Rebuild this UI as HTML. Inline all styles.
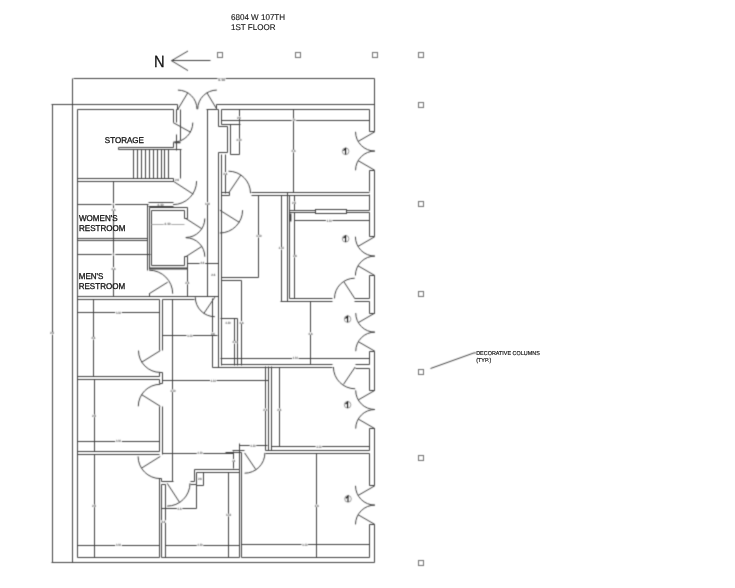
<!DOCTYPE html>
<html><head><meta charset="utf-8"><style>
html,body{margin:0;padding:0;background:#fff;}
svg{display:block;filter:grayscale(1);}
text{font-family:"Liberation Sans",sans-serif;fill:#111;stroke:#111;stroke-width:0.3px;text-rendering:geometricPrecision;}
.tx{opacity:0.99;}
.dt{fill:#444;stroke:#777;stroke-width:0.15px;}
</style></head><body>
<svg width="735" height="588" viewBox="0 0 735 588">
<defs><filter id="bl" color-interpolation-filters="sRGB" filterUnits="userSpaceOnUse" x="0" y="0" width="735" height="588"><feConvolveMatrix order="3" kernelMatrix="1 4 1 4 16 4 1 4 1" divisor="36" edgeMode="duplicate" preserveAlpha="false"/></filter></defs>
<g filter="url(#bl)">
<rect width="735" height="588" fill="#fff"/>
<g fill="none" stroke="#404040" stroke-width="1.0">
<path d="M72.5,78.5 V562.5"/>
<path d="M73.5,78.5 H374.5 V131.5"/>
<path d="M51.5,104.5 H177.5 V109.5"/>
<path d="M216.5,109.5 V104.5 H374.5"/>
<path d="M52.5,104.5 V562.5"/>
<path d="M51.5,562.5 H374.5 V524.5"/>
<path d="M374.5,170.5 V236.5"/>
<path d="M374.5,275.5 V313.5"/>
<path d="M374.5,351.5 V390.5"/>
<path d="M374.5,428.5 V485.5"/>
<path d="M369.5,109.5 V131.5"/>
<path d="M369.5,170.5 V191.5"/>
<path d="M369.5,194.5 V210.5"/>
<path d="M369.5,212.5 V236.5"/>
<path d="M369.5,275.5 V298.5"/>
<path d="M369.5,301.5 V313.5"/>
<path d="M369.5,351.5 V364.5"/>
<path d="M369.5,368.5 V390.5"/>
<path d="M369.5,428.5 V450.5"/>
<path d="M369.5,453.5 V485.5"/>
<path d="M369.5,524.5 V557.5"/>
<path d="M369.5,131.5 H374.5"/>
<path d="M369.5,170.5 H374.5"/>
<path d="M369.5,236.5 H374.5"/>
<path d="M369.5,275.5 H374.5"/>
<path d="M369.5,313.5 H374.5"/>
<path d="M369.5,351.5 H374.5"/>
<path d="M369.5,390.5 H374.5"/>
<path d="M369.5,428.5 H374.5"/>
<path d="M369.5,485.5 H374.5"/>
<path d="M369.5,524.5 H374.5"/>
<path d="M355.55,131.80 A19.25,19.25 0 0 0 374.80,151.05"/>
<path d="M374.8,131.8 L358.13,141.43"/>
<path d="M374.80,151.05 A19.25,19.25 0 0 0 355.55,170.30"/>
<path d="M374.8,170.3 L358.13,160.68"/>
<path d="M355.40,236.70 A19.400000000000006,19.400000000000006 0 0 0 374.80,256.10"/>
<path d="M374.8,236.7 L358.0,246.4"/>
<path d="M374.80,256.10 A19.400000000000006,19.400000000000006 0 0 0 355.40,275.50"/>
<path d="M374.8,275.5 L358.0,265.8"/>
<path d="M355.75,313.10 A19.049999999999983,19.049999999999983 0 0 0 374.80,332.15"/>
<path d="M374.8,313.1 L358.3,322.62"/>
<path d="M374.80,332.15 A19.049999999999983,19.049999999999983 0 0 0 355.75,351.20"/>
<path d="M374.8,351.2 L358.3,341.68"/>
<path d="M355.70,390.40 A19.100000000000023,19.100000000000023 0 0 0 374.80,409.50"/>
<path d="M374.8,390.4 L358.26,399.95"/>
<path d="M374.80,409.50 A19.100000000000023,19.100000000000023 0 0 0 355.70,428.60"/>
<path d="M374.8,428.6 L358.26,419.05"/>
<path d="M355.50,485.80 A19.299999999999983,19.299999999999983 0 0 0 374.80,505.10"/>
<path d="M374.8,485.8 L358.09,495.45"/>
<path d="M374.80,505.10 A19.299999999999983,19.299999999999983 0 0 0 355.50,524.40"/>
<path d="M374.8,524.4 L358.09,514.75"/>
<path d="M177.90,90.10 A19.1,19.1 0 0 1 197.00,109.20"/>
<path d="M177.9,109.2 L187.74,92.83"/>
<path d="M216.80,90.10 A19.1,19.1 0 0 0 197.70,109.20"/>
<path d="M216.8,109.2 L206.96,92.83"/>
<path d="M77.5,109.5 V557.5"/>
<path d="M77.5,109.5 H173.5 V122.5"/>
<path d="M176.5,109.5 V122.5"/>
<path d="M176.5,109.5 H178.5"/>
<path d="M180.5,109.5 V140.5"/>
<path d="M192.80,122.60 A19.6,19.6 0 0 1 173.20,142.20"/>
<path d="M173.2,122.6 L190.34,132.1"/>
<path d="M174.5,142.5 H180.5" stroke-width="1.6"/>
<path d="M173.5,142.5 V147.5 H118.5 V149.5 H181.5"/>
<path d="M176.5,134.5 V150.5"/>
<path d="M133.5,149.5 V178.5"/>
<path d="M137.5,149.5 V178.5"/>
<path d="M141.5,149.5 V178.5"/>
<path d="M145.5,149.5 V178.5"/>
<path d="M149.5,149.5 V178.5"/>
<path d="M153.5,149.5 V178.5"/>
<path d="M157.5,149.5 V178.5"/>
<path d="M161.5,149.5 V178.5"/>
<path d="M164.5,149.5 V178.5"/>
<path d="M168.5,149.5 V178.5"/>
<path d="M180.5,149.5 V178.5"/>
<path d="M77.5,178.5 H173.5 V181.5 H77.5"/>
<path d="M196.60,181.10 A23.5,23.5 0 0 1 173.10,204.60"/>
<path d="M173.1,181.1 L193.23,194.17"/>
<path d="M77.5,204.5 H148.5"/>
<path d="M113.5,181.5 V296.5"/>
<path d="M148.5,202.5 H173.5 M148.5,206.5 H173.5"/>
<path d="M77.5,238.5 H147.5 M77.5,240.5 H147.5"/>
<path d="M147.5,204.5 V270.5"/>
<path d="M149.5,269.5 V207.5 H187.5 V218.5 H184.5 V210.5 H151.5 V265.5 H184.5 V256.5 H187.5 V296.5"/>
<path d="M151.5,224.5 H184.5" stroke="#aaa"/>
<path d="M149.5,268.5 H187.5" stroke-width="1.8"/>
<path d="M204.80,218.50 A19,19 0 0 1 185.80,237.50"/>
<path d="M185.8,218.5 L201.79,228.76"/>
<path d="M185.80,237.70 A19,19 0 0 1 204.80,256.70"/>
<path d="M185.8,256.7 L201.79,246.44"/>
<path d="M77.5,254.5 H150.5"/>
<path d="M149.20,270.20 A23.5,23.5 0 0 1 172.70,293.70"/>
<path d="M149.2,293.7 L167.71,282.18"/>
<path d="M149.5,293.5 V296.5"/>
<path d="M77.5,296.5 H218.5"/>
<path d="M77.5,299.5 H159.5 M162.5,299.5 H194.5"/>
<path d="M187.5,263.5 H218.5"/>
<path d="M159.5,299.5 V350.5 M162.5,299.5 V350.5"/>
<path d="M93.5,299.5 V376.5"/>
<path d="M77.5,312.5 H159.5"/>
<path d="M138.50,350.60 A21.8,21.8 0 0 0 160.30,372.40"/>
<path d="M160.3,350.6 L141.81,362.15"/>
<path d="M159.5,376.5 V372.5 H162.5 V383.5 H159.5 V379.5"/>
<path d="M77.5,376.5 H159.5 M77.5,379.5 H159.5"/>
<path d="M138.30,406.30 A22,22 0 0 1 160.30,384.30"/>
<path d="M160.3,406.3 L141.64,394.64"/>
<path d="M94.5,379.5 V451.5"/>
<path d="M77.5,441.5 H159.5"/>
<path d="M159.5,406.5 V451.5 M162.5,406.5 V454.5"/>
<path d="M77.5,451.5 H159.5 M77.5,454.5 H159.5"/>
<path d="M138.10,456.40 A22.2,22.2 0 0 0 160.30,478.60"/>
<path d="M160.3,456.4 L141.47,468.16"/>
<path d="M159.5,478.5 V557.5 M159.5,478.5 H161.5 V481.5 H173.5"/>
<path d="M94.5,454.5 V557.5"/>
<path d="M77.5,545.5 H159.5"/>
<path d="M77.5,557.5 H159.5"/>
<path d="M207.5,109.5 V296.5"/>
<path d="M206.5,109.5 H216.5"/>
<path d="M216.5,109.5 H218.5 V126.5 H227.5 V152.5 H218.5 V367.5"/>
<path d="M221.5,109.5 V124.5 H240.5 M230.5,124.5 V154.5 H239.5"/>
<path d="M221.5,154.5 V365.5"/>
<path d="M221.5,192.5 H229.5 V195.5 H221.5"/>
<path d="M225.5,154.5 V193.5"/>
<path d="M239.5,109.5 V154.5"/>
<path d="M221.5,109.5 H369.5"/>
<path d="M221.5,120.5 H369.5" stroke-width="1.2"/>
<path d="M293.5,109.5 V192.5"/>
<path d="M228.50,171.20 A22,22 0 0 1 250.50,193.20"/>
<path d="M228.5,193.2 L240.8,174.96"/>
<path d="M251.5,192.5 H369.5 M251.5,195.5 H369.5"/>
<path d="M242.60,210.20 A22.8,22.8 0 0 1 219.80,233.00"/>
<path d="M219.8,210.2 L239.14,222.28"/>
<path d="M258.5,195.5 V277.5 H221.5 M221.5,280.5 H241.5 V365.5"/>
<path d="M281.5,195.5 V301.5"/>
<path d="M287.5,192.5 V301.5 M289.5,195.5 V298.5"/>
<path d="M294.5,195.5 V210.5"/>
<path d="M289.5,210.5 H369.5 M289.5,212.5 H369.5"/>
<rect x="315.5" y="209.5" width="31" height="4" fill="#fff"/>
<path d="M294.5,212.5 V298.5"/>
<path d="M294.5,220.5 H369.5"/>
<path d="M290.5,213.5 V221.5" stroke-width="1.8"/>
<path d="M289.5,298.5 H332.5 M280.5,301.5 H332.5"/>
<path d="M354.5,298.5 H369.5 M354.5,301.5 H369.5"/>
<path d="M334.50,298.40 A20.2,20.2 0 0 1 354.70,278.20"/>
<path d="M354.7,298.4 L343.81,281.63"/>
<path d="M310.5,301.5 V364.5"/>
<path d="M220.5,358.5 H369.5"/>
<path d="M221.5,364.5 H332.5 M221.5,367.5 H332.5"/>
<path d="M355.5,364.5 H369.5 M355.5,368.5 H369.5"/>
<path d="M333.40,367.00 A21.8,21.8 0 0 0 355.20,388.80"/>
<path d="M355.2,367 L343.46,384.41"/>
<path d="M172.5,299.5 V481.5"/>
<path d="M195.30,297.20 A19.5,19.5 0 0 0 214.80,316.70"/>
<path d="M214.8,297.2 L203.9,313.37"/>
<path d="M212.5,298.5 V367.5 H265.5"/>
<path d="M220.5,318.5 H237.5 M234.5,318.5 V365.5 M237.5,318.5 V365.5"/>
<path d="M162.5,335.5 H217.5"/>
<path d="M265.5,366.5 V450.5 M268.5,366.5 V450.5 M271.5,366.5 V450.5"/>
<path d="M279.5,367.5 V446.5"/>
<path d="M162.5,380.5 H268.5"/>
<path d="M271.5,446.5 H369.5 M265.5,450.5 H369.5 M265.5,453.5 H369.5"/>
<path d="M162.5,453.5 H233.5"/>
<path d="M233.5,451.5 V468.5"/>
<path d="M239.5,443.5 V469.5"/>
<path d="M239.5,445.5 H267.5"/>
<path d="M232.5,450.5 H244.5 M225.5,452.5 H241.5"/>
<path d="M194.5,469.5 H239.5 M196.5,472.5 H239.5"/>
<path d="M190.5,481.5 H194.5 V469.5 M190.5,484.5 H196.5 V472.5"/>
<path d="M190.00,483.30 A22.8,22.8 0 0 1 167.20,506.10"/>
<path d="M167.2,483.3 L179.62,502.42"/>
<path d="M161.5,508.5 H196.5 V484.5"/>
<path d="M203.5,472.5 V485.5 H196.5"/>
<path d="M228.5,472.5 V557.5"/>
<path d="M239.5,469.5 V557.5"/>
<path d="M161.5,484.5 V557.5 M165.5,484.5 V557.5 M161.5,484.5 H165.5"/>
<path d="M165.5,545.5 H239.5"/>
<path d="M161.5,557.5 H239.5"/>
<path d="M264.90,452.90 A20.3,20.3 0 0 1 244.60,473.20"/>
<path d="M244.6,452.9 L255.95,469.73"/>
<path d="M241.5,452.5 V557.5"/>
<path d="M316.5,453.5 V557.5"/>
<path d="M241.5,544.5 H369.5"/>
<path d="M241.5,557.5 H369.5"/>
<path d="M171.5,60.5 H210.5"/>
<path d="M188,51 L171.5,60.7 L188,70.6"/>
<rect x="217.5" y="52.5" width="5" height="5" stroke="#707070" stroke-width="1"/>
<rect x="295.5" y="52.5" width="5" height="5" stroke="#707070" stroke-width="1"/>
<rect x="372.5" y="52.5" width="5" height="5" stroke="#707070" stroke-width="1"/>
<rect x="418.5" y="52.5" width="5" height="5" stroke="#707070" stroke-width="1"/>
<rect x="418.5" y="102.5" width="5" height="5" stroke="#707070" stroke-width="1"/>
<rect x="418.5" y="201.5" width="5" height="5" stroke="#707070" stroke-width="1"/>
<rect x="418.5" y="291.5" width="5" height="5" stroke="#707070" stroke-width="1"/>
<rect x="418.5" y="369.5" width="5" height="5" stroke="#707070" stroke-width="1"/>
<rect x="418.5" y="455.5" width="5" height="5" stroke="#707070" stroke-width="1"/>
<rect x="418.5" y="560.5" width="5" height="5" stroke="#707070" stroke-width="1"/>
<path d="M430.5,368.5 L474,352.9 H476"/>
<circle cx="345.6" cy="151.3" r="3.3" stroke="#888" stroke-width="0.85"/><path d="M343.40000000000003,150.70000000000002 L345.6,148.5 V154.4" stroke="#111" stroke-width="1.1"/><circle cx="345.6" cy="238.8" r="3.3" stroke="#888" stroke-width="0.85"/><path d="M343.40000000000003,238.20000000000002 L345.6,236.0 V241.9" stroke="#111" stroke-width="1.1"/><circle cx="347.6" cy="319.1" r="3.3" stroke="#888" stroke-width="0.85"/><path d="M345.40000000000003,318.5 L347.6,316.3 V322.20000000000005" stroke="#111" stroke-width="1.1"/><circle cx="347.6" cy="404.8" r="3.3" stroke="#888" stroke-width="0.85"/><path d="M345.40000000000003,404.2 L347.6,402.0 V407.90000000000003" stroke="#111" stroke-width="1.1"/><circle cx="348" cy="498.9" r="3.3" stroke="#888" stroke-width="0.85"/><path d="M345.8,498.29999999999995 L348,496.09999999999997 V502.0" stroke="#111" stroke-width="1.1"/>
</g>
<g stroke="none"><rect x="217.30" y="78.30" width="8.60" height="2.6" fill="#fff"/><text x="221.60" y="80.70" font-size="3.2" text-anchor="middle" class="dt" textLength="7.00" lengthAdjust="spacingAndGlyphs">3-10</text><rect x="325.90" y="219.10" width="6.60" height="2.6" fill="#fff"/><text x="329.20" y="221.50" font-size="3.2" text-anchor="middle" class="dt" textLength="5.00" lengthAdjust="spacingAndGlyphs">3-10</text><rect x="199.60" y="262.00" width="5.60" height="2.6" fill="#fff"/><text x="202.40" y="264.40" font-size="3.2" text-anchor="middle" class="dt" textLength="4.00" lengthAdjust="spacingAndGlyphs">2-6</text><rect x="186.50" y="334.20" width="6.60" height="2.6" fill="#fff"/><text x="189.80" y="336.60" font-size="3.2" text-anchor="middle" class="dt" textLength="5.00" lengthAdjust="spacingAndGlyphs">3-10</text><rect x="210.00" y="379.10" width="6.60" height="2.6" fill="#fff"/><text x="213.30" y="381.50" font-size="3.2" text-anchor="middle" class="dt" textLength="5.00" lengthAdjust="spacingAndGlyphs">3-10</text><rect x="115.20" y="311.60" width="6.60" height="2.6" fill="#fff"/><text x="118.50" y="314.00" font-size="3.2" text-anchor="middle" class="dt" textLength="5.00" lengthAdjust="spacingAndGlyphs">3-10</text><rect x="115.20" y="439.70" width="6.60" height="2.6" fill="#fff"/><text x="118.50" y="442.10" font-size="3.2" text-anchor="middle" class="dt" textLength="5.00" lengthAdjust="spacingAndGlyphs">3-10</text><rect x="115.20" y="543.80" width="6.60" height="2.6" fill="#fff"/><text x="118.50" y="546.20" font-size="3.2" text-anchor="middle" class="dt" textLength="5.00" lengthAdjust="spacingAndGlyphs">3-10</text><rect x="196.70" y="452.00" width="6.60" height="2.6" fill="#fff"/><text x="200.00" y="454.40" font-size="3.2" text-anchor="middle" class="dt" textLength="5.00" lengthAdjust="spacingAndGlyphs">3-10</text><rect x="176.80" y="507.20" width="5.60" height="2.6" fill="#fff"/><text x="179.60" y="509.60" font-size="3.2" text-anchor="middle" class="dt" textLength="4.00" lengthAdjust="spacingAndGlyphs">2-6</text><rect x="196.70" y="543.80" width="6.60" height="2.6" fill="#fff"/><text x="200.00" y="546.20" font-size="3.2" text-anchor="middle" class="dt" textLength="5.00" lengthAdjust="spacingAndGlyphs">3-10</text><rect x="301.50" y="543.30" width="6.60" height="2.6" fill="#fff"/><text x="304.80" y="545.70" font-size="3.2" text-anchor="middle" class="dt" textLength="5.00" lengthAdjust="spacingAndGlyphs">3-10</text><rect x="315.60" y="445.30" width="6.60" height="2.6" fill="#fff"/><text x="318.90" y="447.70" font-size="3.2" text-anchor="middle" class="dt" textLength="5.00" lengthAdjust="spacingAndGlyphs">3-10</text><rect x="249.70" y="444.20" width="6.60" height="2.6" fill="#fff"/><text x="253.00" y="446.60" font-size="3.2" text-anchor="middle" class="dt" textLength="5.00" lengthAdjust="spacingAndGlyphs">3-10</text><rect x="292.00" y="357.00" width="6.60" height="2.6" fill="#fff"/><text x="295.30" y="359.40" font-size="3.2" text-anchor="middle" class="dt" textLength="5.00" lengthAdjust="spacingAndGlyphs">3-10</text><rect x="224.70" y="321.10" width="6.60" height="2.6" fill="#fff"/><text x="228.00" y="323.50" font-size="3.2" text-anchor="middle" class="dt" textLength="5.00" lengthAdjust="spacingAndGlyphs">3-10</text><rect x="238.70" y="321.10" width="5.60" height="2.6" fill="#fff"/><text x="241.50" y="323.50" font-size="3.2" text-anchor="middle" class="dt" textLength="4.00" lengthAdjust="spacingAndGlyphs">2-6</text><rect x="291.60" y="118.50" width="4.60" height="2.6" fill="#fff"/><text x="293.90" y="120.90" font-size="3.2" text-anchor="middle" class="dt" textLength="3.00" lengthAdjust="spacingAndGlyphs">2-6</text><rect x="236.10" y="116.30" width="5.60" height="2.6" fill="#fff"/><text x="238.90" y="118.70" font-size="3.2" text-anchor="middle" class="dt" textLength="4.00" lengthAdjust="spacingAndGlyphs">2-6</text><rect x="235.60" y="138.70" width="6.60" height="2.6" fill="#fff"/><text x="238.90" y="141.10" font-size="3.2" text-anchor="middle" class="dt" textLength="5.00" lengthAdjust="spacingAndGlyphs">3-10</text><rect x="290.80" y="149.80" width="5.60" height="2.6" fill="#fff"/><text x="293.60" y="152.20" font-size="3.2" text-anchor="middle" class="dt" textLength="4.00" lengthAdjust="spacingAndGlyphs">2-6</text><rect x="222.40" y="172.10" width="5.60" height="2.6" fill="#fff"/><text x="225.20" y="174.50" font-size="3.2" text-anchor="middle" class="dt" textLength="4.00" lengthAdjust="spacingAndGlyphs">2-6</text><rect x="204.20" y="202.20" width="6.60" height="2.6" fill="#fff"/><text x="207.50" y="204.60" font-size="3.2" text-anchor="middle" class="dt" textLength="5.00" lengthAdjust="spacingAndGlyphs">3-10</text><rect x="291.30" y="201.40" width="5.60" height="2.6" fill="#fff"/><text x="294.10" y="203.80" font-size="3.2" text-anchor="middle" class="dt" textLength="4.00" lengthAdjust="spacingAndGlyphs">2-6</text><rect x="255.50" y="234.90" width="6.60" height="2.6" fill="#fff"/><text x="258.80" y="237.30" font-size="3.2" text-anchor="middle" class="dt" textLength="5.00" lengthAdjust="spacingAndGlyphs">3-10</text><rect x="278.00" y="247.00" width="6.60" height="2.6" fill="#fff"/><text x="281.30" y="249.40" font-size="3.2" text-anchor="middle" class="dt" textLength="5.00" lengthAdjust="spacingAndGlyphs">3-10</text><rect x="292.10" y="254.80" width="5.60" height="2.6" fill="#fff"/><text x="294.90" y="257.20" font-size="3.2" text-anchor="middle" class="dt" textLength="4.00" lengthAdjust="spacingAndGlyphs">2-6</text><rect x="184.40" y="281.70" width="5.60" height="2.6" fill="#fff"/><text x="187.20" y="284.10" font-size="3.2" text-anchor="middle" class="dt" textLength="4.00" lengthAdjust="spacingAndGlyphs">2-6</text><rect x="210.10" y="332.20" width="5.60" height="2.6" fill="#fff"/><text x="212.90" y="334.60" font-size="3.2" text-anchor="middle" class="dt" textLength="4.00" lengthAdjust="spacingAndGlyphs">2-6</text><rect x="231.70" y="341.00" width="5.60" height="2.6" fill="#fff"/><text x="234.50" y="343.40" font-size="3.2" text-anchor="middle" class="dt" textLength="4.00" lengthAdjust="spacingAndGlyphs">2-6</text><rect x="169.60" y="389.50" width="6.60" height="2.6" fill="#fff"/><text x="172.90" y="391.90" font-size="3.2" text-anchor="middle" class="dt" textLength="5.00" lengthAdjust="spacingAndGlyphs">3-10</text><rect x="307.70" y="332.20" width="5.60" height="2.6" fill="#fff"/><text x="310.50" y="334.60" font-size="3.2" text-anchor="middle" class="dt" textLength="4.00" lengthAdjust="spacingAndGlyphs">2-6</text><rect x="262.50" y="408.40" width="5.60" height="2.6" fill="#fff"/><text x="265.30" y="410.80" font-size="3.2" text-anchor="middle" class="dt" textLength="4.00" lengthAdjust="spacingAndGlyphs">2-6</text><rect x="276.40" y="408.40" width="5.60" height="2.6" fill="#fff"/><text x="279.20" y="410.80" font-size="3.2" text-anchor="middle" class="dt" textLength="4.00" lengthAdjust="spacingAndGlyphs">2-6</text><rect x="110.70" y="208.20" width="5.60" height="2.6" fill="#fff"/><text x="113.50" y="210.60" font-size="3.2" text-anchor="middle" class="dt" textLength="4.00" lengthAdjust="spacingAndGlyphs">2-6</text><rect x="110.70" y="267.10" width="5.60" height="2.6" fill="#fff"/><text x="113.50" y="269.50" font-size="3.2" text-anchor="middle" class="dt" textLength="4.00" lengthAdjust="spacingAndGlyphs">2-6</text><rect x="90.60" y="336.90" width="5.60" height="2.6" fill="#fff"/><text x="93.40" y="339.30" font-size="3.2" text-anchor="middle" class="dt" textLength="4.00" lengthAdjust="spacingAndGlyphs">2-6</text><rect x="91.20" y="414.60" width="5.60" height="2.6" fill="#fff"/><text x="94.00" y="417.00" font-size="3.2" text-anchor="middle" class="dt" textLength="4.00" lengthAdjust="spacingAndGlyphs">2-6</text><rect x="91.20" y="504.60" width="5.60" height="2.6" fill="#fff"/><text x="94.00" y="507.00" font-size="3.2" text-anchor="middle" class="dt" textLength="4.00" lengthAdjust="spacingAndGlyphs">2-6</text><rect x="49.20" y="332.00" width="5.60" height="2.6" fill="#fff"/><text x="52.00" y="334.40" font-size="3.2" text-anchor="middle" class="dt" textLength="4.00" lengthAdjust="spacingAndGlyphs">2-6</text><rect x="225.30" y="513.80" width="6.60" height="2.6" fill="#fff"/><text x="228.60" y="516.20" font-size="3.2" text-anchor="middle" class="dt" textLength="5.00" lengthAdjust="spacingAndGlyphs">3-10</text><rect x="160.60" y="520.30" width="5.60" height="2.6" fill="#fff"/><text x="163.40" y="522.70" font-size="3.2" text-anchor="middle" class="dt" textLength="4.00" lengthAdjust="spacingAndGlyphs">2-6</text><rect x="314.00" y="504.50" width="5.60" height="2.6" fill="#fff"/><text x="316.80" y="506.90" font-size="3.2" text-anchor="middle" class="dt" textLength="4.00" lengthAdjust="spacingAndGlyphs">2-6</text><rect x="197.10" y="477.50" width="5.60" height="2.6" fill="#fff"/><text x="199.90" y="479.90" font-size="3.2" text-anchor="middle" class="dt" textLength="4.00" lengthAdjust="spacingAndGlyphs">2-6</text><rect x="231.40" y="459.10" width="4.60" height="2.6" fill="#fff"/><text x="233.70" y="461.50" font-size="3.2" text-anchor="middle" class="dt" textLength="3.00" lengthAdjust="spacingAndGlyphs">2-6</text><rect x="156.70" y="203.30" width="7.60" height="2.6" fill="#fff"/><text x="160.50" y="205.70" font-size="3.2" text-anchor="middle" class="dt" textLength="6.00" lengthAdjust="spacingAndGlyphs">3-10</text><rect x="163.70" y="222.80" width="7.60" height="2.6" fill="#fff"/><text x="167.50" y="225.20" font-size="3.2" text-anchor="middle" class="dt" textLength="6.00" lengthAdjust="spacingAndGlyphs">3-10</text><rect x="174.20" y="178.70" width="5.60" height="2.6" fill="#fff"/><text x="177.00" y="181.10" font-size="3.2" text-anchor="middle" class="dt" textLength="4.00" lengthAdjust="spacingAndGlyphs">2-6</text><rect x="210.50" y="273.70" width="5.60" height="2.6" fill="#fff"/><text x="213.30" y="276.10" font-size="3.2" text-anchor="middle" class="dt" textLength="4.00" lengthAdjust="spacingAndGlyphs">2-6</text><rect x="111.50" y="203.10" width="3.60" height="2.6" fill="#fff"/><text x="113.30" y="205.50" font-size="3.2" text-anchor="middle" class="dt" textLength="2.00" lengthAdjust="spacingAndGlyphs">1</text><rect x="111.70" y="252.90" width="3.60" height="2.6" fill="#fff"/><text x="113.50" y="255.30" font-size="3.2" text-anchor="middle" class="dt" textLength="2.00" lengthAdjust="spacingAndGlyphs">1</text></g>
</g>
<g class="tx"><text transform="translate(231,20.00) scale(0.96,1)" font-size="8.40" style="stroke-width:0.12px">6804 W 107TH</text><text transform="translate(231,30.30) scale(0.96,1)" font-size="8.40" style="stroke-width:0.12px">1ST FLOOR</text><text transform="translate(154.0,67.30) scale(0.9,1)" font-size="16.28">N</text><text transform="translate(104.8,142.50) scale(0.96,1)" font-size="8.40">STORAGE</text><text transform="translate(79,220.60) scale(0.96,1)" font-size="8.40">WOMEN'S</text><text transform="translate(79,230.80) scale(0.96,1)" font-size="8.40">RESTROOM</text><text transform="translate(78.7,279.10) scale(0.96,1)" font-size="8.40">MEN'S</text><text transform="translate(78.7,289.30) scale(0.96,1)" font-size="8.40">RESTROOM</text><text transform="translate(476.2,355.30) scale(0.96,1)" font-size="5.67" style="stroke-width:0.16px;fill:#111">DECORATIVE COLUMNS</text><text transform="translate(476.2,361.70) scale(0.96,1)" font-size="5.67" style="stroke-width:0.16px;fill:#111">(TYP.)</text></g>
</svg>
</body></html>
